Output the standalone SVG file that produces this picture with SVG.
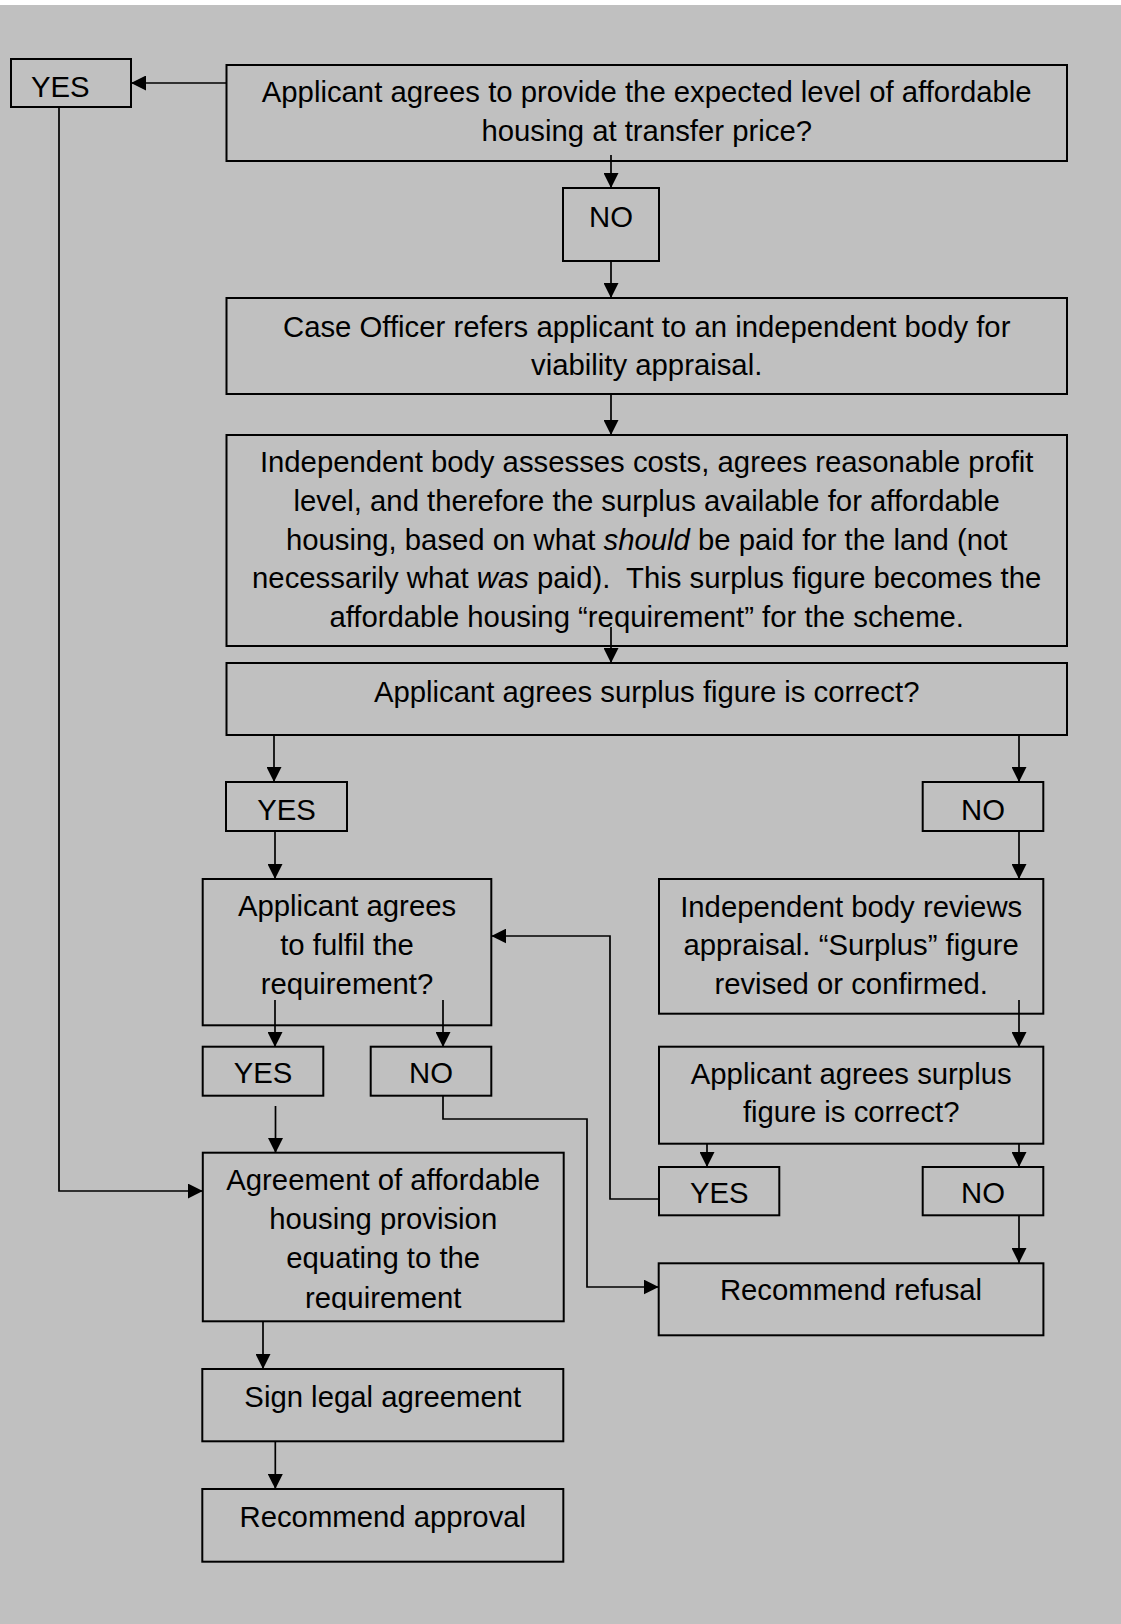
<svg xmlns="http://www.w3.org/2000/svg" width="1121" height="1624" viewBox="0 0 1121 1624">
<style>
.bx{fill:none;stroke:#000;stroke-width:2}
.t{font-family:"Liberation Sans",Arial,sans-serif;font-size:29.3px;fill:#000;text-anchor:middle}
.c{fill:none;stroke:#000;stroke-width:1.7;marker-end:url(#ah)}
</style>
<defs>
<marker id="ah" markerUnits="userSpaceOnUse" markerWidth="15" markerHeight="15" refX="15" refY="7.5" orient="auto"><path d="M0,0 L15,7.5 L0,15 z" fill="#000"/></marker>
<clipPath id="clipAgr"><rect x="200" y="1150" width="370" height="160"/></clipPath>
</defs>
<rect x="0" y="0" width="1121" height="1624" fill="#fff"/>
<rect x="0" y="5" width="1121" height="1619" fill="#c0c0c0"/>

<g id="connectors">
<path class="c" d="M226.5,83 L131,83"/>
<path class="c" d="M59,107 L59,1191 L202.8,1191"/>
<path class="c" d="M611,155 L611,188"/>
<path class="c" d="M611,261 L611,298"/>
<path class="c" d="M611,394 L611,435"/>
<path class="c" d="M611,627 L611,663"/>
<path class="c" d="M274,735 L274,782"/>
<path class="c" d="M1019,735 L1019,782"/>
<path class="c" d="M275,831 L275,879"/>
<path class="c" d="M1019,831 L1019,879"/>
<path class="c" d="M275,1000 L275,1047"/>
<path class="c" d="M443,1000 L443,1047"/>
<path class="c" d="M1019,1000 L1019,1047"/>
<path class="c" d="M707,1144 L707,1167"/>
<path class="c" d="M1019,1144 L1019,1167"/>
<path class="c" d="M659,1199 L610,1199 L610,936 L491.3,936"/>
<path class="c" d="M443,1096 L443,1119 L587,1119 L587,1287 L658.7,1287"/>
<path class="c" d="M275.5,1106 L275.5,1153"/>
<path class="c" d="M1019,1215 L1019,1263"/>
<path class="c" d="M263,1321 L263,1369"/>
<path class="c" d="M275.3,1441 L275.3,1489"/>
</g>

<g id="yes-top">
<rect class="bx" x="11" y="59" width="120" height="48"/>
<text class="t" x="31" y="96.7" style="text-anchor:start">YES</text>
</g>

<g id="q1">
<rect class="bx" x="226.5" y="65" width="840.5" height="96"/>
<text class="t" x="646.7" y="101.7">Applicant agrees to provide the expected level of affordable</text>
<text class="t" x="646.7" y="140.7">housing at transfer price?</text>
</g>

<g id="no-top">
<rect class="bx" x="563" y="188" width="96" height="73"/>
<text class="t" x="611" y="226.7">NO</text>
</g>

<g id="refer">
<rect class="bx" x="226.5" y="298" width="840.5" height="96"/>
<text class="t" x="646.7" y="336.7">Case Officer refers applicant to an independent body for</text>
<text class="t" x="646.7" y="375">viability appraisal.</text>
</g>

<g id="assess">
<rect class="bx" x="226.5" y="435" width="840.5" height="211"/>
<text class="t" x="646.7" y="472.3">Independent body assesses costs, agrees reasonable profit</text>
<text class="t" x="646.7" y="511">level, and therefore the surplus available for affordable</text>
<text class="t" x="646.7" y="549.5">housing, based on what <tspan font-style="italic">should</tspan> be paid for the land (not</text>
<text class="t" x="646.7" y="588" xml:space="preserve">necessarily what <tspan font-style="italic">was</tspan> paid).  This surplus figure becomes the</text>
<text class="t" x="646.7" y="626.5">affordable housing “requirement” for the scheme.</text>
</g>

<g id="q2">
<rect class="bx" x="226.5" y="663" width="840.5" height="72"/>
<text class="t" x="646.7" y="702">Applicant agrees surplus figure is correct?</text>
</g>

<g id="yes-a">
<rect class="bx" x="226" y="782" width="121" height="49"/>
<text class="t" x="286.5" y="820">YES</text>
</g>

<g id="no-a">
<rect class="bx" x="922.7" y="782" width="120.6" height="49"/>
<text class="t" x="983" y="820">NO</text>
</g>

<g id="q3">
<rect class="bx" x="202.7" y="879" width="288.6" height="146.3"/>
<text class="t" x="347" y="915.7">Applicant agrees</text>
<text class="t" x="347" y="955">to fulfil the</text>
<text class="t" x="347" y="994">requirement?</text>
</g>

<g id="review">
<rect class="bx" x="659" y="879" width="384.3" height="134.7"/>
<text class="t" x="851.2" y="916.7">Independent body reviews</text>
<text class="t" x="851.2" y="955">appraisal. “Surplus” figure</text>
<text class="t" x="851.2" y="994">revised or confirmed.</text>
</g>

<g id="yes-b">
<rect class="bx" x="202.7" y="1046.7" width="120.6" height="49"/>
<text class="t" x="263" y="1083.3">YES</text>
</g>

<g id="no-b">
<rect class="bx" x="370.7" y="1046.7" width="120.6" height="49"/>
<text class="t" x="431" y="1083.3">NO</text>
</g>

<g id="q4">
<rect class="bx" x="659" y="1046.7" width="384.3" height="97"/>
<text class="t" x="851.2" y="1084">Applicant agrees surplus</text>
<text class="t" x="851.2" y="1121.7">figure is correct?</text>
</g>

<g id="yes-c">
<rect class="bx" x="659" y="1167" width="120.3" height="48.3"/>
<text class="t" x="719.2" y="1203.3">YES</text>
</g>

<g id="no-c">
<rect class="bx" x="922.7" y="1167" width="120.6" height="48.3"/>
<text class="t" x="983" y="1203.3">NO</text>
</g>

<g id="agreement">
<rect class="bx" x="202.8" y="1152.7" width="360.9" height="168.6"/>
<g clip-path="url(#clipAgr)">
<text class="t" x="383.2" y="1190">Agreement of affordable</text>
<text class="t" x="383.2" y="1229">housing provision</text>
<text class="t" x="383.2" y="1268.3">equating to the</text>
<text class="t" x="383.2" y="1307.7">requirement</text>
</g>
</g>

<g id="refusal">
<rect class="bx" x="658.7" y="1263.3" width="384.7" height="72"/>
<text class="t" x="851" y="1300">Recommend refusal</text>
</g>

<g id="sign">
<rect class="bx" x="202.3" y="1369" width="361" height="72.3"/>
<text class="t" x="382.8" y="1406.7">Sign legal agreement</text>
</g>

<g id="approval">
<rect class="bx" x="202.3" y="1489" width="361" height="72.7"/>
<text class="t" x="382.8" y="1527">Recommend approval</text>
</g>
</svg>
